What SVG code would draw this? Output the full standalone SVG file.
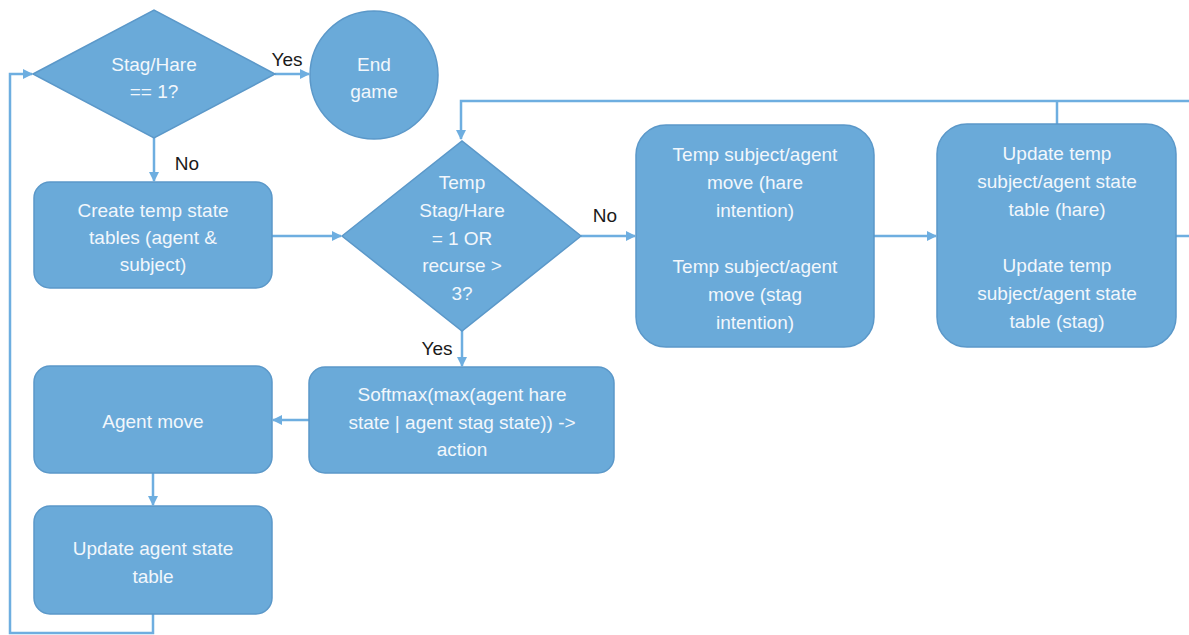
<svg xmlns="http://www.w3.org/2000/svg" width="1189" height="635" viewBox="0 0 1189 635">
<style>
.n{fill:#6aaad9;stroke:#5b98c9;stroke-width:1.5}
.t{font-family:"Liberation Sans",Arial,sans-serif;font-size:19px;fill:#f2f7fc;text-anchor:middle}
.l{font-family:"Liberation Sans",Arial,sans-serif;font-size:19px;fill:#1a1a1a}
.c{fill:none;stroke:#6eaee0;stroke-width:2.5}
</style>
<defs>
<marker id="a" viewBox="0 0 10 10" refX="9" refY="5" markerWidth="4" markerHeight="4" orient="auto" markerUnits="strokeWidth">
<path d="M0,0 L10,5 L0,10 z" fill="#6eaee0"/>
</marker>
</defs>
<rect width="1189" height="635" fill="#ffffff"/>
<g id="connectors">
<path class="c" d="M275,74 L309,74" marker-end="url(#a)"/>
<path class="c" d="M154,138 L154,181" marker-end="url(#a)"/>
<path class="c" d="M272,236 L341,236" marker-end="url(#a)"/>
<path class="c" d="M581,236 L635,236" marker-end="url(#a)"/>
<path class="c" d="M874,236 L936,236" marker-end="url(#a)"/>
<path class="c" d="M1176,236 L1189,236"/>
<path class="c" d="M1189,101 L461,101 L461,139" marker-end="url(#a)"/>
<path class="c" d="M1057,101 L1057,124"/>
<path class="c" d="M462,330 L462,366" marker-end="url(#a)"/>
<path class="c" d="M309,420 L273,420" marker-end="url(#a)"/>
<path class="c" d="M153,473 L153,505" marker-end="url(#a)"/>
<path class="c" d="M153,614 L153,633 L10,633 L10,74 L32,74" marker-end="url(#a)"/>
<text class="l" x="287" y="66" text-anchor="middle">Yes</text>
<text class="l" x="187" y="170" text-anchor="middle">No</text>
<text class="l" x="605" y="222" text-anchor="middle">No</text>
<text class="l" x="437" y="355" text-anchor="middle">Yes</text>
</g>
<g id="d1">
<polygon class="n" points="33,74 154,10 275,74 154,138"/>
<text class="t" x="154" y="71">Stag/Hare</text>
<text class="t" x="154" y="98">== 1?</text>
</g>
<g id="end">
<circle class="n" cx="374" cy="75" r="64"/>
<text class="t" x="374" y="71">End</text>
<text class="t" x="374" y="98">game</text>
</g>
<g id="create">
<rect class="n" x="34" y="182" width="238" height="106" rx="16"/>
<text class="t" x="153" y="217">Create temp state</text>
<text class="t" x="153" y="244">tables (agent &amp;</text>
<text class="t" x="153" y="271">subject)</text>
</g>
<g id="d2">
<polygon class="n" points="342,236 462,141 581,236 462,331"/>
<text class="t" x="462" y="189">Temp</text>
<text class="t" x="462" y="217">Stag/Hare</text>
<text class="t" x="462" y="245">= 1 OR</text>
<text class="t" x="462" y="272">recurse &gt;</text>
<text class="t" x="462" y="300">3?</text>
</g>
<g id="tempmove">
<rect class="n" x="636" y="125" width="238" height="222" rx="30"/>
<text class="t" x="755" y="161">Temp subject/agent</text>
<text class="t" x="755" y="189">move (hare</text>
<text class="t" x="755" y="217">intention)</text>
<text class="t" x="755" y="273">Temp subject/agent</text>
<text class="t" x="755" y="301">move (stag</text>
<text class="t" x="755" y="329">intention)</text>
</g>
<g id="updtemp">
<rect class="n" x="937" y="124" width="239" height="223" rx="30"/>
<text class="t" x="1057" y="160">Update temp</text>
<text class="t" x="1057" y="188">subject/agent state</text>
<text class="t" x="1057" y="216">table (hare)</text>
<text class="t" x="1057" y="272">Update temp</text>
<text class="t" x="1057" y="300">subject/agent state</text>
<text class="t" x="1057" y="328">table (stag)</text>
</g>
<g id="softmax">
<rect class="n" x="309" y="367" width="305" height="106" rx="16"/>
<text class="t" x="462" y="401">Softmax(max(agent hare</text>
<text class="t" x="462" y="429">state | agent stag state)) -&gt;</text>
<text class="t" x="462" y="456">action</text>
</g>
<g id="agentmove">
<rect class="n" x="34" y="366" width="238" height="107" rx="16"/>
<text class="t" x="153" y="428">Agent move</text>
</g>
<g id="updagent">
<rect class="n" x="34" y="506" width="238" height="108" rx="16"/>
<text class="t" x="153" y="555">Update agent state</text>
<text class="t" x="153" y="583">table</text>
</g>
</svg>
